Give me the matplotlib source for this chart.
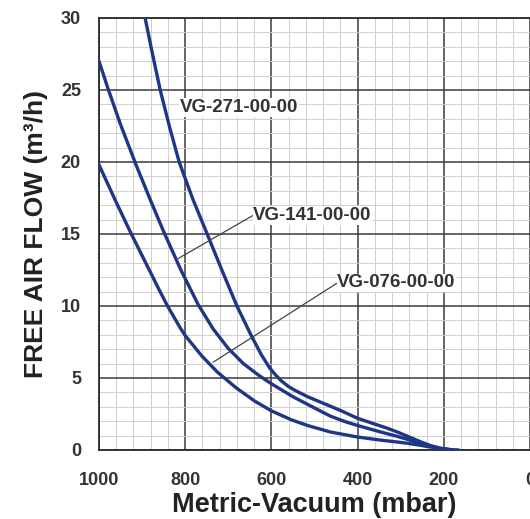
import matplotlib.pyplot as plt
from matplotlib.ticker import MultipleLocator

plt.rcParams['font.family'] = ['Liberation Sans', 'DejaVu Sans']

# vacuum (mbar) / free air flow (m3/h)
vg271_vac = [893, 878, 858, 836, 814, 782, 749, 715, 680, 646, 623, 604, 590, 577, 560, 546, 516, 480, 440,
             400, 360, 330, 307, 280, 253, 230, 207, 185, 165]
vg271_flow = [30, 27.8, 25, 22.4, 20, 17.4, 15, 12.5, 10, 7.9, 6.6, 5.7, 5.2, 4.8, 4.4, 4.15, 3.7, 3.25, 2.75,
              2.2, 1.8, 1.5, 1.24, 0.9, 0.56, 0.3, 0.12, 0.03, 0]

vg141_vac = [1000, 978, 950, 914, 880, 849, 810, 770, 735, 700, 665, 630, 600, 550, 502, 463, 430, 400, 350,
             307, 280, 253, 230, 207, 180]
vg141_flow = [27.0, 25.0, 22.6, 19.8, 17.3, 15.1, 12.5, 10.1, 8.4, 7.05, 6.0, 5.2, 4.6, 3.7, 2.95, 2.35, 1.98,
              1.7, 1.28, 0.94, 0.7, 0.45, 0.25, 0.1, 0]

vg076_vac = [1000, 960, 925, 890, 860, 841, 812, 800, 762, 725, 681, 639, 600, 554, 516, 463, 400, 350, 307,
             280, 253, 230, 207, 180]
vg076_flow = [19.8, 17.2, 15.0, 12.9, 11.1, 10.0, 8.5, 7.95, 6.55, 5.4, 4.3, 3.4, 2.72, 2.1, 1.7, 1.25, 0.9,
              0.7, 0.55, 0.45, 0.32, 0.2, 0.09, 0]

curve_names = ['VG-271-00-00', 'VG-141-00-00', 'VG-076-00-00']
label_anchor = [(812, 23.8), (642, 16.3), (447, 11.6)]
leader_point = [None, (816, 13.3), (735, 6.1)]

vac_ticks = [1000, 800, 600, 400, 200, 0]
flow_ticks = [0, 5, 10, 15, 20, 25, 30]

LINE_COLOR = '#1f3585'
TEXT_COLOR = '#333333'

fig = plt.figure(figsize=(5.30, 5.19), dpi=100)
ax = fig.add_axes([99 / 530, 1 - 450 / 519, 431 / 530, 432 / 519])

for vac, flow in [(vg271_vac, vg271_flow), (vg141_vac, vg141_flow), (vg076_vac, vg076_flow)]:
    ax.plot(vac, flow, color=LINE_COLOR, lw=2.4, solid_capstyle='round', solid_joinstyle='round', zorder=3)

for name, anchor, point in zip(curve_names, label_anchor, leader_point):
    box = dict(fc='white', ec='none', pad=0.5)
    if point is None:
        ax.text(anchor[0], anchor[1], name, ha='left', va='center', fontsize=13.5, fontweight='bold',
                color=TEXT_COLOR, bbox=box, zorder=4)
    else:
        ax.annotate(name, xy=point, xytext=anchor, ha='left', va='center', fontsize=13.5,
                    fontweight='bold', color=TEXT_COLOR, bbox=box, zorder=4,
                    arrowprops=dict(arrowstyle='-', color='#444444', lw=0.9,
                                    relpos=(0, 0.5), shrinkA=0, shrinkB=0))

ax.set_xlim(1000, 0)
ax.set_ylim(0, 30)
ax.set_xticks(vac_ticks)
ax.set_yticks(flow_ticks)
ax.xaxis.set_minor_locator(MultipleLocator(40))
ax.yaxis.set_minor_locator(MultipleLocator(1))
ax.grid(which='major', color='#3a3a3a', lw=1.1, zorder=1)
ax.grid(which='minor', color='#cfcfcf', lw=0.7, zorder=0)
ax.set_axisbelow(True)
ax.tick_params(which='both', length=0)
ax.tick_params(axis='x', pad=16, labelsize=13, labelcolor=TEXT_COLOR)
ax.tick_params(axis='y', pad=13, labelsize=13, labelcolor=TEXT_COLOR)
for lbl in ax.get_xticklabels() + ax.get_yticklabels():
    lbl.set_fontweight('bold')
for side in ['left', 'bottom', 'top']:
    ax.spines[side].set_color('#2a2a2a')
    ax.spines[side].set_linewidth(1.3)
ax.spines['right'].set_visible(False)

ax.set_xlabel('Metric-Vacuum (mbar)', fontsize=19.5, fontweight='bold', color='#222222', labelpad=2)
ax.set_ylabel('FREE AIR FLOW (m³/h)', fontsize=19, fontweight='bold', color='#222222', labelpad=9)

fig.savefig('out.png', dpi=100, facecolor='white')
